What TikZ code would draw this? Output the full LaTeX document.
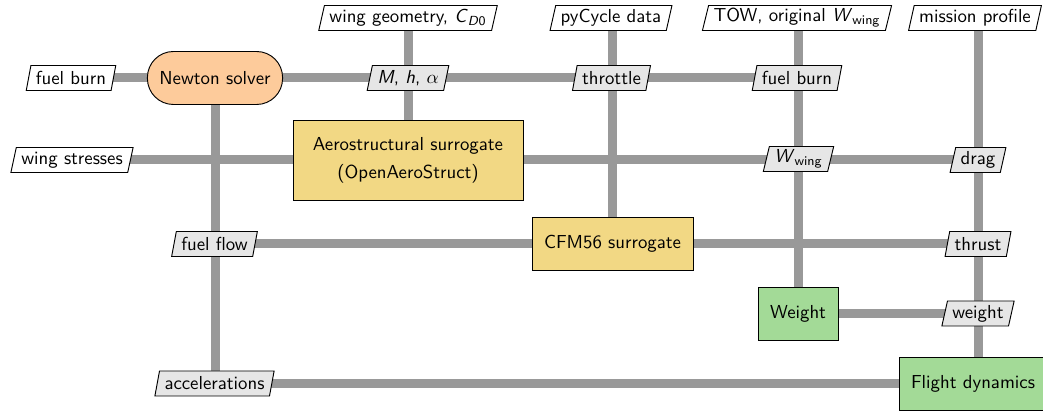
\documentclass[tikz,border=0pt]{standalone}
\usetikzlibrary{shapes.geometric,backgrounds}
\renewcommand{\familydefault}{\sfdefault}
\newcommand{\pu}{0.532pt}
\definecolor{lgray}{HTML}{999999}
\definecolor{dgray}{HTML}{E6E6E6}
\definecolor{orng}{HTML}{FDCB9B}
\definecolor{yelw}{HTML}{F2D884}
\definecolor{grn}{HTML}{A3DA97}
\begin{document}
\begin{tikzpicture}[x=\pu,y=-\pu,
  every node/.style={font=\sffamily},
  data/.style={trapezium, trapezium left angle=75, trapezium right angle=105, trapezium stretches=true, draw=black, line width=0.5pt, inner xsep={5*\pu}, inner ysep={2*\pu}, minimum height={25*\pu}},
  datain/.style={data, fill=white},
  dataint/.style={data, fill=dgray},
  func/.style={rectangle, draw=black, line width=0.5pt, minimum height={53*\pu}, inner xsep={12*\pu}, align=center},
  conn/.style={line width={9*\pu}, draw=lgray}]
\useasboundingbox (0,0) rectangle (1043,411);
% functions
\node[func, rounded corners={26*\pu}, fill=orng, minimum width={135*\pu}] (newton) at (215,78) {Newton solver};
\node[func, fill=yelw, minimum width={230*\pu}, minimum height={80*\pu}] (aero) at (408,160) {Aerostructural surrogate\\[3pt](OpenAeroStruct)};
\node[func, fill=yelw, minimum width={158*\pu}] (cfm) at (612.5,244) {CFM56 surrogate};
\node[func, fill=grn, minimum width={77*\pu}] (wbox) at (798,313.5) {Weight};
\node[func, fill=grn, minimum width={134*\pu}] (fd) at (973,383.5) {Flight dynamics};
% data
\node[datain] (fburnL) at (71,78) {fuel burn};
\node[datain] (wstress) at (72,160) {wing stresses};
\node[datain] (wgeom) at (408,18) {wing geometry, \textit{C}\textsubscript{\textit{D}0}};
\node[datain] (pycycle) at (611,18) {pyCycle data};
\node[datain] (tow) at (797,18) {TOW, original \textit{W}\textsubscript{wing}};
\node[datain] (mission) at (975,18) {mission profile};
\node[dataint] (mha) at (408,78) {\textit{M}, \textit{h}, $\alpha$};
\node[dataint] (throttle) at (611.5,78) {throttle};
\node[dataint] (fburn2) at (797,78) {fuel burn};
\node[dataint] (wwing) at (798.5,159) {\textit{W}\textsubscript{wing}};
\node[dataint] (drag) at (978,160) {drag};
\node[dataint] (fflow) at (214.5,244) {fuel flow};
\node[dataint] (thrust) at (978,244) {thrust};
\node[dataint] (wdata) at (978,313.5) {weight};
\node[dataint] (accel) at (214.5,383.5) {accelerations};
% connectors
\begin{scope}[on background layer]
\draw[conn] (fburnL.center) -- (fburn2.center);
\draw[conn] (wstress.center) -- (drag.center);
\draw[conn] (fflow.center) -- (thrust.center);
\draw[conn] (wbox.center) -- (wdata.center);
\draw[conn] (accel.center) -- (fd.center);
\draw[conn] (newton.center) -- (newton.center |- accel.center);
\draw[conn] (wgeom.center) -- (aero.center);
\draw[conn] (cfm.center |- pycycle.center) -- (cfm.center);
\draw[conn] (wbox.center |- tow.center) -- (wbox.center);
\draw[conn] (drag |- mission.center) -- (wdata.center) -- (wdata.center |- fd.center);
\end{scope}
\end{tikzpicture}
\end{document}
